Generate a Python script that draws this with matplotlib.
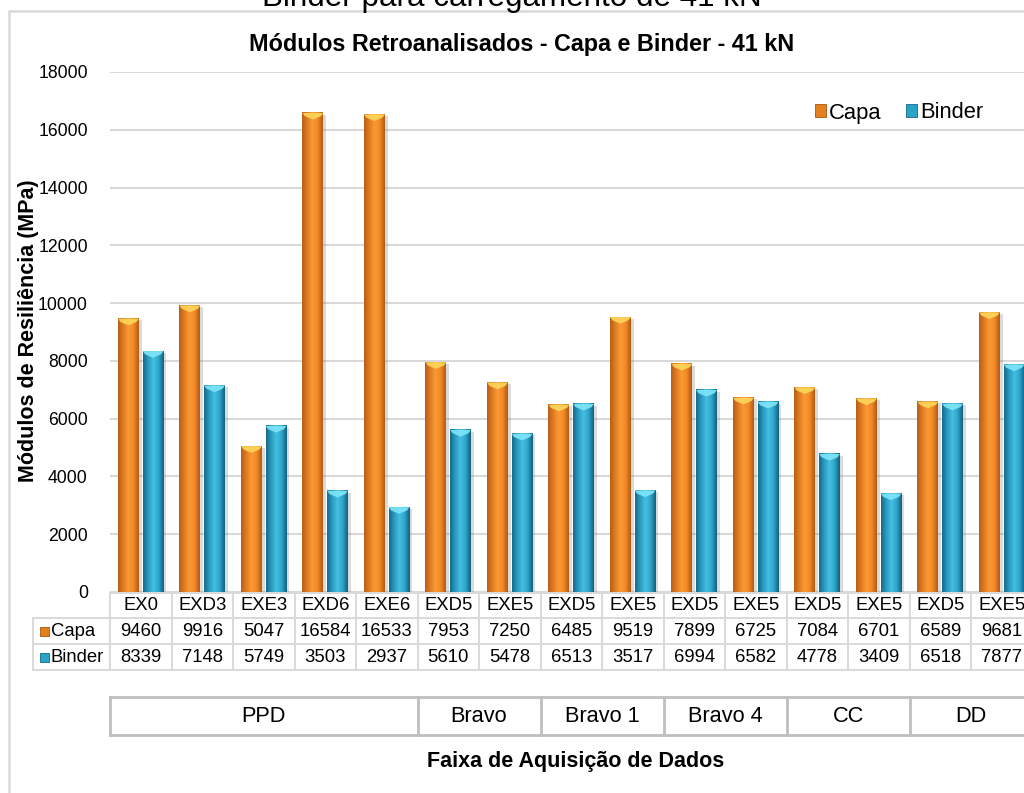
import numpy as np
import matplotlib
matplotlib.use('Agg')
from matplotlib import pyplot as plt
from matplotlib.colors import LinearSegmentedColormap
from matplotlib.patches import Patch, Rectangle, Polygon
from matplotlib.lines import Line2D
from matplotlib.transforms import blended_transform_factory

plt.rcParams['font.family'] = ['Liberation Sans', 'DejaVu Sans']

# -----------------------------
# dados
# -----------------------------
pontos = ['EX0', 'EXD3', 'EXE3', 'EXD6', 'EXE6', 'EXD5', 'EXE5', 'EXD5',
          'EXE5', 'EXD5', 'EXE5', 'EXD5', 'EXE5', 'EXD5', 'EXE5']
capa = [9460, 9916, 5047, 16584, 16533, 7953, 7250, 6485, 9519, 7899,
        6725, 7084, 6701, 6589, 9681]
binder = [8339, 7148, 5749, 3503, 2937, 5610, 5478, 6513, 3517, 6994,
          6582, 4778, 3409, 6518, 7877]
faixas = ['PPD', 'Bravo', 'Bravo 1', 'Bravo 4', 'CC', 'DD']
n_faixa = [5, 2, 2, 2, 2, 2]
yticks = list(range(0, 18001, 2000))

W, H = 1024, 793
def fx(x):
    return x / W
def fy(y):
    return 1 - y / H

# cores (borda escura, centro claro, topo)
cor_capa = ['#b85f17', '#e07b22', '#fb9a35', '#f28a26', '#b45a15']
cor_binder = ['#17698a', '#2a9cc2', '#45bfe0', '#2fa6cc', '#135f7e']
topo_capa = '#ffd75a'
topo_binder = '#7fe6f8'
cmap_capa = LinearSegmentedColormap.from_list('capa', cor_capa)
cmap_binder = LinearSegmentedColormap.from_list('binder', cor_binder)
grad = np.linspace(0, 1, 64).reshape(1, -1)

fig = plt.figure(figsize=(10.24, 7.93), dpi=100)

# moldura do grafico (cortada no topo e a direita)
fig.add_artist(Line2D([fx(9), fx(9), fx(1030)], [0, fy(11), fy(11)],
                      transform=fig.transFigure, color='#d9d9d9', lw=1.8))
fig.text(0.5, fy(6), 'Binder para carregamento de 41 kN', fontsize=22.6,
         ha='center', va='baseline', color='#000000')
fig.text(fx(522), fy(45), 'Módulos Retroanalisados - Capa e Binder - 41 kN',
         fontsize=16.8, fontweight='bold', ha='center', va='center')

ax = fig.add_axes([fx(110), fy(592), 922.5 / W, 520 / H])
ax.set_facecolor('none')
for s in ax.spines.values():
    s.set_visible(False)

x = np.arange(len(pontos))
larg = 0.34
desl = 0.2
h_topo = 230  # altura do chanfro no topo das barras

def barra(xc, h, cmap, cor_topo):
    x0, x1 = xc - larg / 2, xc + larg / 2
    # sombra
    ax.add_patch(Rectangle((x0 + 0.045, 0), larg, h - 60, color='#7f7f7f',
                           alpha=0.28, lw=0, zorder=2))
    ax.imshow(grad, extent=[x0, x1, 0, h], aspect='auto', cmap=cmap,
              zorder=3, interpolation='bilinear')
    ax.add_patch(Polygon([(x0, h), (x1, h), (x1 - larg * 0.12, h - h_topo * 0.5),
                          (xc, h - h_topo), (x0 + larg * 0.12, h - h_topo * 0.5)],
                         closed=True, color=cor_topo, lw=0, zorder=4, alpha=0.9))

for i in range(len(pontos)):
    barra(x[i] - desl, capa[i], cmap_capa, topo_capa)
    barra(x[i] + desl, binder[i], cmap_binder, topo_binder)

ax.set_xlim(-0.5, len(pontos) - 0.5)
ax.set_ylim(0, 18000)
ax.set_yticks(yticks)
ax.set_yticklabels([str(v) for v in yticks], fontsize=12.7)
ax.set_xticks([])
ax.tick_params(axis='y', length=0, pad=16)
ax.grid(axis='y', color='#d9d9d9', lw=1.5, zorder=0)
ax.set_axisbelow(True)

fig.text(fx(29), fy(331), 'Módulos de Resiliência (MPa)', rotation=90,
         fontsize=15.5, fontweight='bold', ha='center', va='center')

leg = ax.legend(handles=[Patch(facecolor='#e5801f', edgecolor='#a8560f', lw=0.6),
                         Patch(facecolor='#2aa3c8', edgecolor='#156a8a', lw=0.6)],
                labels=['Capa', 'Binder'], ncol=2, frameon=False, fontsize=15.8,
                handlelength=0.5, handleheight=0.5, handletextpad=0.15,
                columnspacing=1.1, loc='center left',
                bbox_to_anchor=((795 - 110) / 922.5, (592 - 113) / 520))

# -----------------------------
# tabela de dados
# -----------------------------
tr = blended_transform_factory(ax.transData, fig.transFigure)
linha = dict(color='#d9d9d9', lw=1.4, transform=tr, clip_on=False)
y_lin = [593, 618, 644, 670]
esq = -0.5 - 77 / 61.5
dir = len(pontos) - 0.5
ax.add_line(Line2D([-0.5, dir], [fy(593)] * 2, **linha))
for yl in y_lin[1:]:
    ax.add_line(Line2D([esq, dir], [fy(yl)] * 2, **linha))
for k in range(len(pontos) + 1):
    ax.add_line(Line2D([k - 0.5] * 2, [fy(593), fy(670)], **linha))
ax.add_line(Line2D([esq] * 2, [fy(618), fy(670)], **linha))

fs_tab = 13.3
for i in range(len(pontos)):
    ax.text(x[i], fy(606), pontos[i], transform=tr, ha='center', va='center',
            fontsize=fs_tab, clip_on=False)
    ax.text(x[i], fy(631), str(capa[i]), transform=tr, ha='center', va='center',
            fontsize=fs_tab, clip_on=False)
    ax.text(x[i], fy(657), str(binder[i]), transform=tr, ha='center', va='center',
            fontsize=fs_tab, clip_on=False)

for nome, yc, cor, borda in [('Capa', 631, '#e5801f', '#a8560f'),
                             ('Binder', 657, '#2aa3c8', '#156a8a')]:
    fig.add_artist(Rectangle((fx(40), fy(yc + 4.5)), 9 / W, 9 / H,
                             transform=fig.transFigure, facecolor=cor,
                             edgecolor=borda, lw=0.6))
    fig.text(fx(51), fy(yc), nome, fontsize=fs_tab, ha='left', va='center')

# -----------------------------
# faixas de aquisicao
# -----------------------------
borda_g = dict(color='#bfbfbf', lw=2.0, transform=tr, clip_on=False)
ax.add_line(Line2D([-0.5, dir], [fy(697)] * 2, **borda_g))
ax.add_line(Line2D([-0.5, dir], [fy(735)] * 2, **borda_g))
lim = np.concatenate([[0], np.cumsum(n_faixa)]) - 0.5
for b in lim:
    ax.add_line(Line2D([b] * 2, [fy(697), fy(735)], **borda_g))
for j, nome in enumerate(faixas):
    ax.text((lim[j] + lim[j + 1]) / 2, fy(716), nome, transform=tr,
            ha='center', va='center', fontsize=15.7, clip_on=False)

fig.text(fx(576), fy(762), 'Faixa de Aquisição de Dados', fontsize=15.5,
         fontweight='bold', ha='center', va='center')

plt.savefig('out.png', dpi=100)
